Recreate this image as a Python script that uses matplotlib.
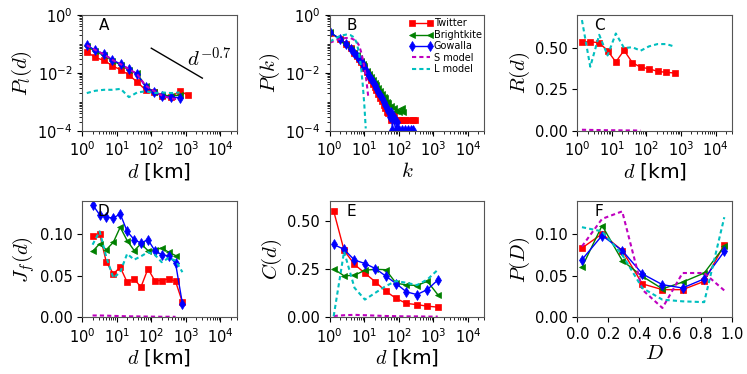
import numpy as np
import matplotlib
matplotlib.use("Agg")
import matplotlib.pyplot as plt
from matplotlib.ticker import LogLocator, NullFormatter

plt.rcParams['mathtext.fontset'] = 'cm'
plt.rcParams['font.size'] = 10.5

# ---- A: P_l(d)
d_a = [1.36, 2.37, 4.3, 7.5, 13, 22.5, 39, 68, 118, 209, 380, 660, 1150]
pl_tw = [0.054, 0.034, 0.027, 0.0175, 0.0127, 0.0085, 0.0048, 0.0026, 0.0021, 0.0016, 0.00145, 0.0024, 0.0017]
pl_bk = [0.085, 0.055, 0.04, 0.026, 0.019, 0.0125, 0.0095, 0.0035, 0.0022, 0.0017, 0.0016, 0.0017]
pl_gw = [0.092, 0.06, 0.045, 0.028, 0.02, 0.0135, 0.009, 0.0033, 0.0022, 0.0016, 0.00145, 0.0014]
pl_s = [0.09, 0.062, 0.043, 0.028, 0.02, 0.0135, 0.009, 0.0036, 0.0024, 0.0016, 0.0013, 0.0012]
pl_l = [0.002, 0.0024, 0.0026, 0.0026, 0.0028, 0.00145, 0.0021, 0.0023, 0.002, 0.0021, 0.002, 0.0021]
guide_d = [100, 3000]

# ---- B: P(k)
k_tw = [1, 2, 3, 4, 5, 6, 7, 8, 9, 10, 12, 14, 16, 18, 20, 22, 25, 28, 32, 36, 40, 45, 50,
        60, 70, 85, 100, 120, 150, 200, 250, 290]
pk_tw = [0.24, 0.15, 0.10, 0.07, 0.05, 0.038, 0.03, 0.024, 0.019, 0.015, 0.0105, 0.0075, 0.0055,
         0.0042, 0.0032, 0.0026, 0.0018, 0.0013, 0.0011, 0.0008, 0.0006, 0.00045, 0.0004,
         0.00024, 0.00035, 0.00024, 0.00024, 0.00024, 0.00024, 0.00024, 0.00024, 0.00024]
k_bk = [1, 2, 3, 4, 5, 6, 7, 8, 9, 10, 12, 14, 16, 18, 20, 22, 25, 28, 32, 36, 40, 45, 50,
        60, 70, 85, 100, 120, 135]
pk_bk = [0.26, 0.14, 0.09, 0.065, 0.05, 0.04, 0.032, 0.026, 0.021, 0.017, 0.012, 0.009, 0.007,
         0.0055, 0.0045, 0.0038, 0.003, 0.0024, 0.0019, 0.0015, 0.0013, 0.001, 0.0009,
         0.0007, 0.0006, 0.0005, 0.00045, 0.0006, 0.00046]
k_gw = [1, 2, 3, 4, 5, 6, 7, 8, 9, 10, 12, 14, 16, 18, 20, 22, 25, 28, 32, 36, 40, 45, 50,
        55, 60, 65, 70, 80, 90, 100, 120, 150, 180, 220, 250]
pk_gw = [0.25, 0.15, 0.10, 0.068, 0.05, 0.039, 0.031, 0.025, 0.02, 0.016, 0.011, 0.008, 0.006,
         0.0047, 0.0037, 0.003, 0.0022, 0.0017, 0.0013, 0.001, 0.0008, 0.0006, 0.0005,
         0.0003, 0.00045, 0.00011, 0.0003, 0.00011, 0.0002, 0.00011, 0.00011, 0.00011,
         0.00011, 0.00011, 0.00011]
k_s = [1, 2, 3, 4, 5, 6, 7, 8, 9, 10, 11, 12, 13]
pk_s = [0.11, 0.15, 0.16, 0.16, 0.14, 0.12, 0.09, 0.055, 0.03, 0.016, 0.008, 0.0035, 0.0015]
k_l = [1, 2, 3, 4, 5, 6, 7, 8, 9, 10, 11]
pk_l = [0.12, 0.19, 0.21, 0.2, 0.17, 0.11, 0.05, 0.017, 0.004, 0.0008, 0.00012]

# ---- C: R(d)
d_c = [1.36, 2.37, 4.3, 7.5, 13, 22.5, 39, 68, 118, 209, 380, 660]
r_tw = [0.538, 0.538, 0.532, 0.484, 0.416, 0.486, 0.412, 0.384, 0.375, 0.359, 0.353, 0.349]
r_l = [0.669, 0.387, 0.58, 0.455, 0.588, 0.5, 0.505, 0.484, 0.51, 0.524, 0.524, 0.508]
r_s = [0.006, 0.005, 0.004, 0.003, 0.003, 0.002, 0.002, 0.001]

# ---- D: J_f(d)
d_d = [2.0, 3.2, 5.0, 8.0, 12.6, 20, 32, 50, 80, 126, 200, 317, 502, 796]
jf_tw = [0.098, 0.100, 0.066, 0.052, 0.060, 0.042, 0.046, 0.036, 0.058, 0.044, 0.044, 0.046, 0.043, 0.018]
jf_bk = [0.079, 0.088, 0.081, 0.090, 0.108, 0.092, 0.080, 0.088, 0.080, 0.081, 0.083, 0.078, 0.074]
jf_gw = [0.135, 0.123, 0.120, 0.119, 0.124, 0.103, 0.093, 0.089, 0.093, 0.080, 0.075, 0.0735, 0.065, 0.016]
jf_s = [0.002, 0.002, 0.0018, 0.0015, 0.0013, 0.001, 0.001, 0.0008, 0.0007, 0.0006, 0.0005, 0.0005, 0.0004]
jf_l = [0.087, 0.103, 0.072, 0.047, 0.054, 0.076, 0.069, 0.073, 0.078, 0.075, 0.066, 0.071, 0.068, 0.054]

# ---- E: C(d)
d_e = [1.3, 2.6, 5.2, 10.4, 20.8, 41.6, 83, 166, 333, 666, 1331]
c_tw = [0.55, 0.346, 0.273, 0.228, 0.183, 0.135, 0.097, 0.071, 0.065, 0.057, 0.052]
c_bk = [0.25, 0.214, 0.217, 0.243, 0.248, 0.246, 0.176, 0.167, 0.164, 0.186, 0.117]
c_gw = [0.377, 0.351, 0.296, 0.278, 0.252, 0.213, 0.174, 0.131, 0.117, 0.143, 0.192]
c_s = [0.006, 0.01, 0.012, 0.01, 0.008, 0.006, 0.005, 0.004, 0.004, 0.003, 0.003]
c_l = [0.005, 0.34, 0.152, 0.091, 0.126, 0.161, 0.187, 0.178, 0.166, 0.195, 0.245]

# ---- F: P(D)
D_f = [0.03, 0.16, 0.29, 0.42, 0.55, 0.68, 0.82, 0.95]
pD_tw = [0.083, 0.100, 0.080, 0.040, 0.033, 0.033, 0.043, 0.087]
pD_bk = [0.060, 0.110, 0.068, 0.049, 0.034, 0.042, 0.053, 0.085]
pD_gw = [0.069, 0.098, 0.080, 0.052, 0.039, 0.035, 0.046, 0.079]
pD_s = [0.085, 0.118, 0.127, 0.033, 0.011, 0.053, 0.053, 0.032]
pD_l = [0.108, 0.103, 0.075, 0.035, 0.021, 0.019, 0.018, 0.120]

tw_style = dict(color='r', marker='s', ms=4, mew=0.5, lw=1.0, label='Twitter')
bk_style = dict(color='g', marker='<', ms=4.5, mew=0.5, lw=1.0, label='Brightkite')
gw_style = dict(color='b', marker='d', ms=4.8, mew=0.5, lw=1.0, label='Gowalla')
s_style = dict(color='m', ls='--', dashes=(2, 1.5), lw=1.5, label='S model')
l_style = dict(color='c', ls='--', dashes=(2, 1.5), lw=1.5, label='L model')


def log_x(ax):
    ax.set_xscale('log')
    ax.set_xlim(1, 3e4)
    ax.xaxis.set_major_locator(LogLocator(base=10, numticks=10))
    ax.xaxis.set_minor_locator(LogLocator(base=10, subs=np.arange(2, 10), numticks=50))
    ax.xaxis.set_minor_formatter(NullFormatter())


def log_y(ax):
    ax.set_yscale('log')
    ax.set_ylim(1e-4, 1)
    ax.set_yticks([1e-4, 1e-2, 1e0])
    ax.yaxis.set_minor_locator(LogLocator(base=10, subs=np.arange(1, 10), numticks=50))
    ax.yaxis.set_minor_formatter(NullFormatter())


def letter(ax, s):
    ax.text(0.14, 0.91, s, transform=ax.transAxes, ha='center', va='center', fontsize=11)


fig, axes = plt.subplots(2, 3, figsize=(7.47, 3.74), dpi=100)
fig.subplots_adjust(left=0.11, right=0.98, top=0.96, bottom=0.152, wspace=0.6, hspace=0.61)
axA, axB, axC = axes[0]
axD, axE, axF = axes[1]

# A
axA.plot(d_a, pl_tw, **tw_style)
axA.plot(d_a[:12], pl_bk, **bk_style)
axA.plot(d_a[:12], pl_gw, **gw_style)
axA.plot(d_a[:12], pl_s, **s_style)
axA.plot(d_a[:12], pl_l, **l_style)
axA.plot(guide_d, [0.071 * (x / 100) ** -0.7 for x in guide_d], color='k', lw=1)
axA.text(1100, 0.03, r'$d^{-0.7}$', fontsize=15, ha='left', va='center')
log_x(axA)
log_y(axA)
axA.set_xlabel(r'$d$ [km]', fontsize=14.5, labelpad=1)
axA.set_ylabel(r'$P_l(d)$', fontsize=15, labelpad=2)
letter(axA, 'A')

# B
axB.plot(k_tw, pk_tw, **tw_style)
axB.plot(k_bk, pk_bk, **bk_style)
axB.plot(k_gw, pk_gw, **gw_style)
axB.plot(k_s, pk_s, **s_style)
axB.plot(k_l, pk_l, **l_style)
log_x(axB)
log_y(axB)
axB.set_xlabel(r'$k$', fontsize=15, labelpad=1)
axB.set_ylabel(r'$P(k)$', fontsize=15, labelpad=2)
letter(axB, 'B')
axB.legend(loc='upper right', bbox_to_anchor=(1.02, 1.02), frameon=False, fontsize=7,
           numpoints=2, handlelength=2.4, handletextpad=0.1, labelspacing=0.15,
           borderaxespad=0.2)

# C
axC.plot(d_c, r_tw, **tw_style)
axC.plot(d_c[:8], r_s, **s_style)
axC.plot(d_c, r_l, **l_style)
log_x(axC)
axC.set_ylim(0, 0.70)
axC.set_yticks([0, 0.25, 0.5])
axC.set_xlabel(r'$d$ [km]', fontsize=14.5, labelpad=1)
axC.set_ylabel(r'$R(d)$', fontsize=15, labelpad=2)
letter(axC, 'C')

# D
axD.plot(d_d, jf_tw, **tw_style)
axD.plot(d_d[:13], jf_bk, **bk_style)
axD.plot(d_d, jf_gw, **gw_style)
axD.plot(d_d[:13], jf_s, **s_style)
axD.plot(d_d, jf_l, **l_style)
log_x(axD)
axD.set_ylim(0, 0.139)
axD.set_yticks([0, 0.05, 0.10])
axD.set_xlabel(r'$d$ [km]', fontsize=14.5, labelpad=1)
axD.set_ylabel(r'$J_f(d)$', fontsize=15, labelpad=2)
letter(axD, 'D')

# E
axE.plot(d_e, c_tw, **tw_style)
axE.plot(d_e, c_bk, **bk_style)
axE.plot(d_e, c_gw, **gw_style)
axE.plot(d_e, c_s, **s_style)
axE.plot(d_e, c_l, **l_style)
log_x(axE)
axE.set_ylim(0, 0.60)
axE.set_yticks([0, 0.25, 0.5])
axE.set_xlabel(r'$d$ [km]', fontsize=14.5, labelpad=1)
axE.set_ylabel(r'$C(d)$', fontsize=15, labelpad=2)
letter(axE, 'E')

# F
axF.plot(D_f, pD_tw, **tw_style)
axF.plot(D_f, pD_bk, **bk_style)
axF.plot(D_f, pD_gw, **gw_style)
axF.plot(D_f, pD_s, **s_style)
axF.plot(D_f, pD_l, **l_style)
axF.set_xlim(0, 1)
axF.set_ylim(0, 0.139)
axF.set_xticks([0, 0.2, 0.4, 0.6, 0.8, 1.0])
axF.set_yticks([0, 0.05, 0.10])
axF.set_xlabel(r'$D$', fontsize=15, labelpad=1)
axF.set_ylabel(r'$P(D)$', fontsize=15, labelpad=2)
letter(axF, 'F')

for ax in axes.flat:
    for s in ax.spines.values():
        s.set_color('#555555')

fig.savefig('out.png', dpi=100)
